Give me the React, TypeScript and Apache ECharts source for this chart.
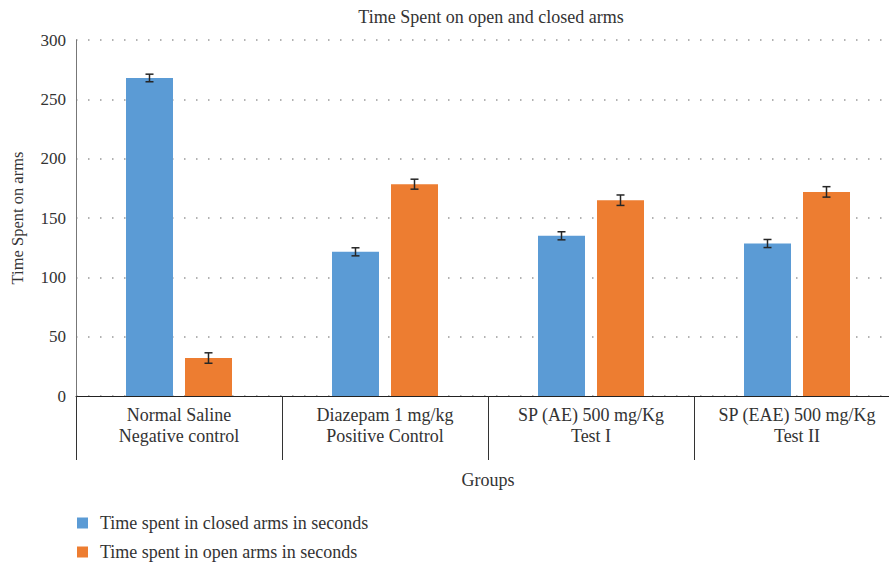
import React, { useEffect, useRef } from "react";
import * as echarts from "echarts";

const categories = [
  "Normal Saline\nNegative control",
  "Diazepam 1 mg/kg\nPositive Control",
  "SP (AE) 500 mg/Kg\nTest I",
  "SP (EAE) 500 mg/Kg\nTest II",
];
const closedArms = [268, 121.5, 135, 128.5];
const closedErr = [3.2, 3.4, 3.4, 3.4];
const openArms = [32, 178.5, 165, 172];
const openErr = [4.4, 4.2, 4.4, 4.4];
const yTicks = [0, 50, 100, 150, 200, 250, 300];

const FONT = "'Liberation Serif', 'DejaVu Serif', serif";
const BAR_W = 47;
const GAP = 12;

function errSeries(vals: number[], errs: number[], offset: number) {
  return {
    type: "custom",
    silent: true,
    z: 10,
    data: vals.map((v, i) => [i, v - errs[i], v + errs[i]]),
    encode: { x: 0, y: [1, 2] },
    renderItem: (params: any, api: any) => {
      const lo = api.coord([api.value(0), api.value(1)]);
      const hi = api.coord([api.value(0), api.value(2)]);
      const x = lo[0] + offset;
      const cap = 4;
      const style = { stroke: "#262626", lineWidth: 1.5 };
      return {
        type: "group",
        children: [
          { type: "line", shape: { x1: x, y1: lo[1], x2: x, y2: hi[1] }, style },
          { type: "line", shape: { x1: x - cap, y1: lo[1], x2: x + cap, y2: lo[1] }, style },
          { type: "line", shape: { x1: x - cap, y1: hi[1], x2: x + cap, y2: hi[1] }, style },
        ],
      };
    },
  };
}

export default function App() {
  const ref = useRef<HTMLDivElement>(null);
  useEffect(() => {
    if (!ref.current) return;
    const chart = echarts.init(ref.current, null, { renderer: "svg" });
    const off = (BAR_W + GAP) / 2;
    chart.setOption({
      animation: false,
      textStyle: { fontFamily: FONT },
      title: {
        text: "Time Spent on open and closed arms",
        left: 486,
        top: 3,
        textAlign: "center",
        textStyle: { fontFamily: FONT, fontSize: 18, fontWeight: "normal", color: "#333" },
      },
      legend: {
        data: ["Time spent in closed arms in seconds", "Time spent in open arms in seconds"],
        orient: "vertical",
        left: 72,
        top: 508,
        height: 56,
        itemWidth: 11,
        itemHeight: 11,
        itemGap: 9,
        icon: "rect",
        textStyle: {
          fontFamily: FONT,
          fontSize: 18,
          lineHeight: 20,
          color: "#333",
          padding: [0, 0, 0, 7],
        },
      },
      grid: {
        left: 76,
        right: -11,
        top: 40,
        bottom: 171,
        containLabel: false,
        outerBoundsMode: "none",
      },
      xAxis: {
        type: "category",
        data: categories,
        name: "Groups",
        nameLocation: "middle",
        nameGap: 75,
        nameTextStyle: { fontFamily: FONT, fontSize: 18, color: "#333" },
        axisLine: { lineStyle: { color: "#222", width: 1 } },
        axisTick: { show: true, length: 64, lineStyle: { color: "#333", width: 1 } },
        axisLabel: {
          fontFamily: FONT,
          fontSize: 18,
          color: "#333",
          lineHeight: 21,
          margin: 8,
          interval: 0,
        },
      },
      yAxis: {
        type: "value",
        min: yTicks[0],
        max: yTicks[yTicks.length - 1],
        interval: 50,
        name: "Time Spent on arms",
        nameLocation: "middle",
        nameGap: 50,
        nameTextStyle: { fontFamily: FONT, fontSize: 16.5, color: "#333" },
        axisLine: { show: true, lineStyle: { color: "#777", width: 1 } },
        axisTick: { show: false },
        axisLabel: { fontFamily: FONT, fontSize: 17, color: "#333", margin: 10 },
        splitLine: {
          show: true,
          lineStyle: { color: "#999", width: 1.5, type: [1.5, 10.5] },
        },
      },
      series: [
        {
          name: "Time spent in closed arms in seconds",
          type: "bar",
          data: closedArms,
          barWidth: BAR_W,
          barGap: (GAP / BAR_W) * 100 + "%",
          itemStyle: { color: "#5B9BD5" },
        },
        {
          name: "Time spent in open arms in seconds",
          type: "bar",
          data: openArms,
          barWidth: BAR_W,
          barGap: (GAP / BAR_W) * 100 + "%",
          itemStyle: { color: "#ED7D31" },
        },
        errSeries(closedArms, closedErr, -off),
        errSeries(openArms, openErr, off),
      ],
    });
    return () => chart.dispose();
  }, []);
  return (
    <div
      ref={ref}
      style={{ position: "absolute", left: 0, top: 0, width: 889, height: 567, background: "#fff" }}
    />
  );
}
